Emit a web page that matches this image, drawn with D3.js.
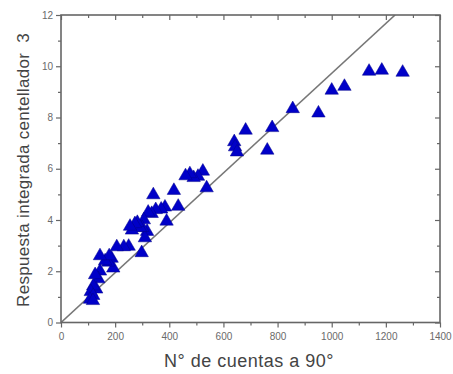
<!DOCTYPE html>
<html><head><meta charset="utf-8">
<script src="https://cdn.jsdelivr.net/npm/d3@7"></script>
<style>
html,body{margin:0;padding:0;background:#fff;}
svg{display:block;font-family:"Liberation Sans",Arial,sans-serif;}
</style></head>
<body><svg id="c" width="453" height="374"></svg>
<script>
const xValues = [1262,1185,1138,1047,1000,951,856,780,762,682,640,643,650,538,524,506,490,476,460,433,417,390,384,370,341,350,335,322,318,306,300,310,298,292,282,273,262,255,250,232,206,193,187,175,163,178,144,144,138,126,130,119,110,119,107,118];
const yValues = [9.76,9.84,9.8,9.21,9.06,8.17,8.34,7.6,6.72,7.5,7.05,6.85,6.65,5.25,5.9,5.7,5.65,5.8,5.72,4.53,5.15,3.95,4.5,4.42,4.98,4.4,4.25,4.3,3.55,4.0,3.7,3.3,2.72,3.7,3.9,3.85,3.6,3.75,2.97,2.95,2.95,2.12,2.5,2.35,2.4,2.6,2.6,2.0,1.7,1.86,1.3,1.42,1.2,1.05,0.9,0.85];
const xTicks = [0,200,400,600,800,1000,1200,1400];
const yTicks = [0,2,4,6,8,10,12];
const xMinor = [100,300,500,700,900,1100,1300];
const yMinor = [1,3,5,7,9,11];
const fitX = [0,1234];
const fitY = [0,12];
const xTitle = "N° de cuentas a 90°";
const yTitle = "Respuesta integrada centellador  3";

const svg = d3.select("#c");
const L=61,R=440,T=15,B=322.5;
const x = d3.scaleLinear().domain([0,1400]).range([L,R]);
const y = d3.scaleLinear().domain([0,12]).range([B,T]);
const axisCol="#666", txtCol="#6a6a6a";

svg.append("clipPath").attr("id","clip").append("rect").attr("x",L).attr("y",T).attr("width",R-L).attr("height",B-T);
svg.append("line").attr("clip-path","url(#clip)")
  .attr("x1",x(fitX[0])).attr("y1",y(fitY[0])).attr("x2",x(fitX[1])).attr("y2",y(fitY[1]))
  .attr("stroke","#777").attr("stroke-width",1.6);

function styleAxis(g){
  g.select(".domain").remove();
  g.selectAll(".tick line").attr("stroke",axisCol).attr("stroke-width",1.2);
  g.selectAll(".tick text").attr("fill",txtCol).attr("font-size",10);
}
svg.append("g").attr("transform",`translate(0,${B})`)
  .call(d3.axisBottom(x).tickValues(xTicks).tickFormat(d3.format("d")).tickSize(5).tickPadding(5)).call(styleAxis);
svg.append("g").attr("transform",`translate(0,${B})`)
  .call(d3.axisBottom(x).tickValues(xMinor).tickFormat("").tickSize(3)).call(styleAxis);
svg.append("g").attr("transform",`translate(0,${T})`)
  .call(d3.axisBottom(x).tickValues(xTicks).tickFormat("").tickSize(5)).call(styleAxis);
svg.append("g").attr("transform",`translate(0,${T})`)
  .call(d3.axisBottom(x).tickValues(xMinor).tickFormat("").tickSize(3)).call(styleAxis);
svg.append("g").attr("transform",`translate(${L},0)`)
  .call(d3.axisLeft(y).tickValues(yTicks).tickFormat(d3.format("d")).tickSize(5).tickPadding(3)).call(styleAxis);
svg.append("g").attr("transform",`translate(${L},0)`)
  .call(d3.axisLeft(y).tickValues(yMinor).tickFormat("").tickSize(3)).call(styleAxis);
svg.append("g").attr("transform",`translate(${R},0)`)
  .call(d3.axisLeft(y).tickValues(yTicks).tickFormat("").tickSize(5)).call(styleAxis);
svg.append("g").attr("transform",`translate(${R},0)`)
  .call(d3.axisLeft(y).tickValues(yMinor).tickFormat("").tickSize(3)).call(styleAxis);

svg.append("rect").attr("x",L).attr("y",T).attr("width",R-L).attr("height",B-T)
  .attr("fill","none").attr("stroke",axisCol).attr("stroke-width",1.6);

const tri = d3.symbol().type(d3.symbolTriangle).size(78);
svg.append("g").selectAll("path").data(xValues.map((v,i)=>[v,yValues[i]])).join("path")
  .attr("d",tri).attr("transform",d=>`translate(${x(d[0])},${y(d[1])})`)
  .attr("fill","#0000c8").attr("stroke","#00008a").attr("stroke-width",0.5);

svg.append("text").attr("x",249).attr("y",367).attr("text-anchor","middle")
  .attr("font-size",18).attr("letter-spacing",0.5).attr("fill","#444").text(xTitle);
svg.append("text").attr("transform",`translate(28.5,170) rotate(-90)`).attr("text-anchor","middle")
  .style("white-space","pre").attr("font-size",17).attr("letter-spacing",0.3).attr("fill","#444").text(yTitle);
</script></body></html>
